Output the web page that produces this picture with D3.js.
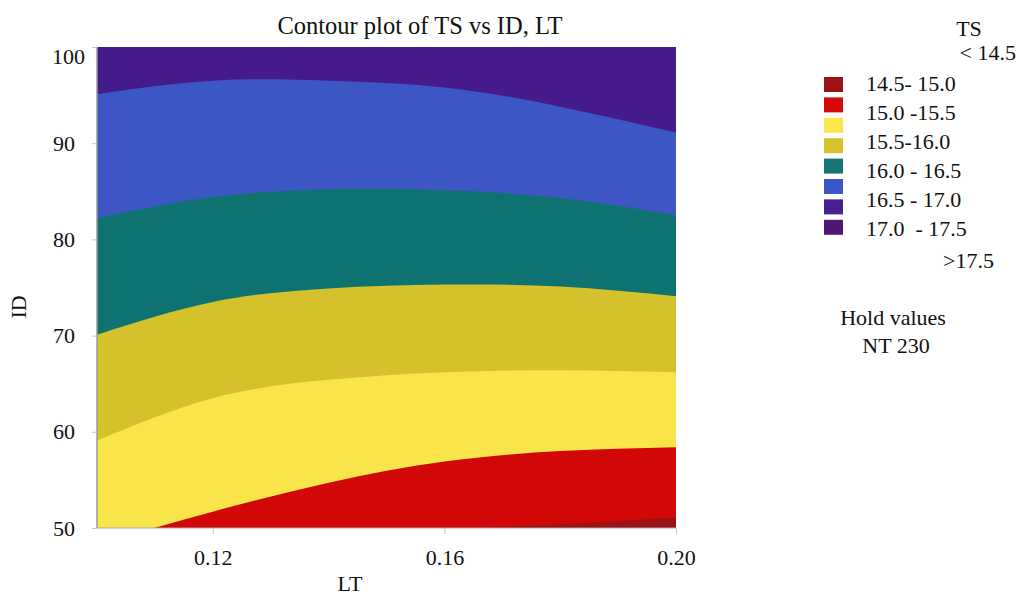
<!DOCTYPE html>
<html>
<head>
<meta charset="utf-8">
<script src="https://cdn.jsdelivr.net/npm/d3@7"></script>
<style>
  html, body { margin: 0; padding: 0; background: #fff; }
  svg text { font-family: "Liberation Serif", "Times New Roman", serif; fill: #111; }
</style>
</head>
<body>
<svg id="chart" width="1020" height="596"></svg>
<script>
// LT sample positions where each contour boundary (ID value) is given
const ltSamples = [0.10, 0.12, 0.14, 0.16, 0.18, 0.20];

// ID of each TS contour line at the LT samples
const line175 = [95.1, 96.5, 96.5, 95.8, 93.8, 91.1];
const line170 = [82.2, 84.4, 85.2, 85.1, 84.3, 82.5];
const line165 = [70.1, 73.5, 74.9, 75.3, 75.1, 74.1];
const line160 = [59.1, 63.5, 65.4, 66.2, 66.4, 66.2];
const line155 = [48.3, 51.7, 54.7, 56.9, 58.0, 58.4];
const line150 = [47.6, 48.5, 49.2, 49.8, 50.4, 51.1];

// Bands, drawn from the top region down; each fills below its line
const bandLines = [line175, line170, line165, line160, line155, line150];
const bandColors = ["#3c56c4", "#0e7370", "#d4c12c", "#f9e44a", "#d20808", "#9a1212"];
const topColor = "#451b8c";

const xTicks = [0.12, 0.16, 0.20];
const yTicks = [50, 60, 70, 80, 90, 100];

// Legend content
const legendSwatches = ["#9c1414", "#d40a0a", "#fbe64c", "#d5c22e", "#137673", "#3b57c6", "#46208f", "#501773"];
const legendLabels = ["14.5- 15.0", "15.0 -15.5", "15.5-16.0", "16.0 - 16.5", "16.5 - 17.0", "17.0  - 17.5"];

const serif = '"Liberation Serif", "Times New Roman", serif';
const svg = d3.select("#chart");
const pL = 97, pR = 676, pT = 47, pB = 528;

const x = d3.scaleLinear().domain([0.10, 0.20]).range([pL, pR]);
const y = d3.scaleLinear().domain([50, 100]).range([pB, pT]);

svg.append("defs").append("clipPath").attr("id", "plotClip")
  .append("rect").attr("x", pL).attr("y", pT)
  .attr("width", pR - pL).attr("height", pB - pT);

const plot = svg.append("g").attr("clip-path", "url(#plotClip)");

plot.append("rect")
  .attr("x", pL).attr("y", pT)
  .attr("width", pR - pL).attr("height", pB - pT)
  .attr("fill", topColor);

const area = d3.area()
  .x(d => x(d[0]))
  .y0(y(40))
  .y1(d => y(d[1]))
  .curve(d3.curveNatural);

bandLines.forEach((vals, i) => {
  const pts = ltSamples.map((lt, j) => [lt, vals[j]]);
  plot.append("path")
    .attr("d", area(pts))
    .attr("fill", bandColors[i]);
});

// Frame: left and bottom edges
svg.append("line").attr("x1", pL).attr("x2", pL).attr("y1", pT).attr("y2", pB)
  .attr("stroke", "#9a9a9a").attr("stroke-width", 1.5);
svg.append("line").attr("x1", pL).attr("x2", pR).attr("y1", pB).attr("y2", pB)
  .attr("stroke", "#a8a8a8").attr("stroke-width", 1.2);

// Axes
const xAxis = svg.append("g").attr("transform", `translate(0,${pB})`)
  .call(d3.axisBottom(x).tickValues(xTicks).tickFormat(d3.format(".2f")).tickSize(6).tickPadding(15));
const yAxis = svg.append("g").attr("transform", `translate(${pL},0)`)
  .call(d3.axisLeft(y).tickValues(yTicks).tickSize(5).tickPadding(17));

[xAxis, yAxis].forEach(g => {
  g.attr("font-family", serif);
  g.select(".domain").remove();
  g.selectAll(".tick line").attr("stroke", "#c8c8c8");
  g.selectAll(".tick text").attr("font-size", 22).attr("font-family", serif).attr("fill", "#111");
});
// the top label sits a little below and right of its tick, clear of the frame corner
yAxis.selectAll(".tick text").filter(d => d === 100).attr("dy", "0.75em").attr("dx", 10);

// Title and axis titles
svg.append("text").attr("x", 420).attr("y", 34).attr("text-anchor", "middle")
  .attr("font-size", 24.5).attr("font-family", serif).text("Contour plot of TS vs ID, LT");
svg.append("text").attr("x", 350).attr("y", 591).attr("text-anchor", "middle")
  .attr("font-size", 22).attr("font-family", serif).text("LT");
svg.append("text").attr("transform", "translate(26,307) rotate(-90)").attr("text-anchor", "middle")
  .attr("font-size", 22).attr("font-family", serif).text("ID");

// Legend
const legend = svg.append("g").attr("font-family", serif);
legend.append("text").attr("x", 969).attr("y", 36).attr("text-anchor", "middle")
  .attr("font-size", 22).text("TS");
legend.append("text").attr("x", 1016).attr("y", 60).attr("text-anchor", "end")
  .attr("font-size", 22).text("< 14.5");

legend.selectAll("rect.sw").data(legendSwatches).enter().append("rect")
  .attr("class", "sw")
  .attr("x", 824).attr("y", (d, i) => 77 + i * 20.4)
  .attr("width", 19).attr("height", 15)
  .attr("fill", d => d);

legend.selectAll("text.lb").data(legendLabels).enter().append("text")
  .attr("class", "lb")
  .attr("x", 866).attr("y", (d, i) => 91 + i * 29)
  .attr("font-size", 22)
  .style("white-space", "pre")
  .text(d => d);

legend.append("text").attr("x", 994).attr("y", 268).attr("text-anchor", "end")
  .attr("font-size", 22).text(">17.5");

legend.append("text").attr("x", 893).attr("y", 325).attr("text-anchor", "middle")
  .attr("font-size", 22).text("Hold values");
legend.append("text").attr("x", 896).attr("y", 353).attr("text-anchor", "middle")
  .attr("font-size", 22).text("NT 230");
</script>
</body>
</html>
